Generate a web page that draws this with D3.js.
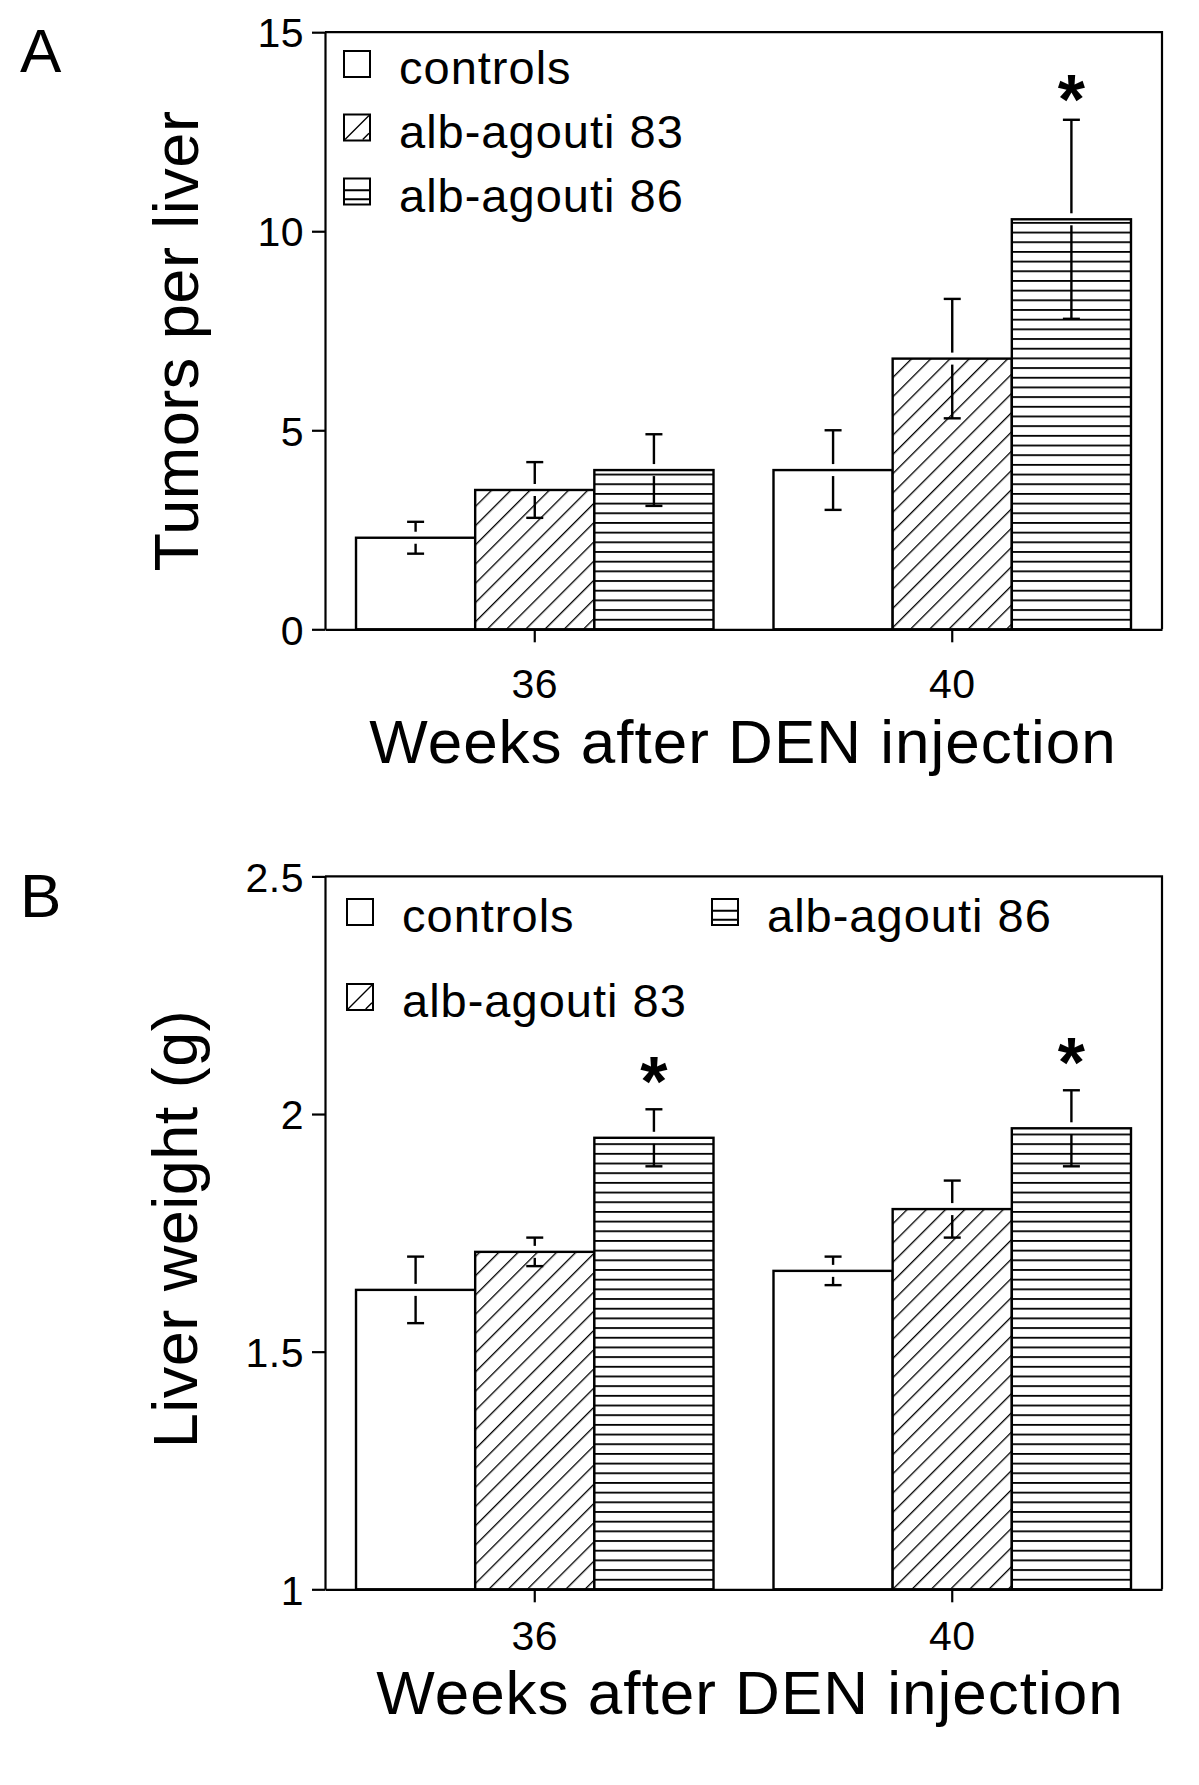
<!DOCTYPE html>
<html><head><meta charset="utf-8">
<script src="https://cdn.jsdelivr.net/npm/d3@7"></script>
<style>
body{margin:0;background:#fff;}
svg{display:block;}
text{font-family:"Liberation Sans",Arial,Helvetica,sans-serif;fill:#000;}
</style>
</head><body>
<svg id="chart" width="1199" height="1785"></svg>
<script>
// ---------- data ----------
const weeks = ["36", "40"];
const seriesNames = ["controls", "alb-agouti 83", "alb-agouti 86"];

const tumorsMean36 = [2.3, 3.5, 4.0];
const tumorsMean40 = [4.0, 6.8, 10.3];
const tumorsSem36 = [0.4, 0.7, 0.9];
const tumorsSem40 = [1.0, 1.5, 2.5];
const tumorsStars = [[1, 2]];            // [week index, series index]
const tumorTicks = [0, 5, 10, 15];
const tumorTickLabels = ["0", "5", "10", "15"];

const weightMean36 = [1.63, 1.71, 1.95];
const weightMean40 = [1.67, 1.80, 1.97];
const weightSem36 = [0.07, 0.03, 0.06];
const weightSem40 = [0.03, 0.06, 0.08];
const weightStars = [[0, 2], [1, 2]];
const weightTicks = [1, 1.5, 2, 2.5];
const weightTickLabels = ["1", "1.5", "2", "2.5"];

// ---------- drawing ----------
const svg = d3.select("#chart");
svg.append("rect").attr("width", 1199).attr("height", 1785).attr("fill", "#fff");
const defs = svg.append("defs");

// diagonal hatch
const diag = defs.append("pattern").attr("id", "diag")
  .attr("patternUnits", "userSpaceOnUse")
  .attr("width", 13.6).attr("height", 10)
  .attr("patternTransform", "rotate(45)");
diag.append("rect").attr("width", 13.6).attr("height", 10).attr("fill", "#fff");
diag.append("rect").attr("x", 0).attr("y", 0).attr("width", 1.3).attr("height", 10).attr("fill", "#000");

function horizPattern(id, y0) {
  const p = defs.append("pattern").attr("id", id)
    .attr("patternUnits", "userSpaceOnUse")
    .attr("width", 20).attr("height", 9.68)
    .attr("patternTransform", `translate(0,${y0 - 0.8})`);
  p.append("rect").attr("width", 20).attr("height", 9.68).attr("fill", "#fff");
  p.append("rect").attr("x", 0).attr("y", 0).attr("width", 20).attr("height", 1.8).attr("fill", "#000");
}

const xLeft = 325, xRight = 1162;

function drawPanel(cfg) {
  const g = svg.append("g");
  const x0 = d3.scaleBand().domain(weeks).range([xLeft, xRight])
    .paddingInner(0.1437).paddingOuter(0.0743);
  const x1 = d3.scaleBand().domain(d3.range(seriesNames.length)).range([0, x0.bandwidth()]);
  const y = d3.scaleLinear().domain(cfg.yDomain).range(cfg.yRange);
  const y0 = y(cfg.yDomain[0]);
  horizPattern(cfg.patId, y0);
  const fills = ["#fff", "url(#diag)", `url(#${cfg.patId})`];

  const rows = [];
  weeks.forEach((w, i) => {
    cfg.means[i].forEach((m, j) => rows.push({w, i, j, m, s: cfg.sems[i][j]}));
  });

  // bars
  g.selectAll("rect.bar").data(rows).join("rect").attr("class", "bar")
    .attr("x", d => x0(d.w) + x1(d.j))
    .attr("y", d => y(d.m))
    .attr("width", x1.bandwidth())
    .attr("height", d => y0 - y(d.m))
    .attr("fill", d => fills[d.j])
    .attr("stroke", "#000").attr("stroke-width", 2.4);

  // error bars (with small gap around bar top as in the original)
  const gap = 6, capW = 17;
  const cx = d => x0(d.w) + x1(d.j) + x1.bandwidth() / 2;
  const eb = g.selectAll("g.eb").data(rows).join("g").attr("class", "eb")
    .attr("stroke", "#000").attr("stroke-width", 2.4).attr("fill", "none");
  eb.append("line").attr("x1", cx).attr("x2", cx)
    .attr("y1", d => y(d.m + d.s)).attr("y2", d => y(d.m) - gap);
  eb.append("line").attr("x1", cx).attr("x2", cx)
    .attr("y1", d => y(d.m) + gap).attr("y2", d => y(d.m - d.s));
  eb.append("line")
    .attr("x1", d => cx(d) - capW / 2).attr("x2", d => cx(d) + capW / 2)
    .attr("y1", d => y(d.m + d.s)).attr("y2", d => y(d.m + d.s));
  eb.append("line")
    .attr("x1", d => cx(d) - capW / 2).attr("x2", d => cx(d) + capW / 2)
    .attr("y1", d => y(d.m - d.s)).attr("y2", d => y(d.m - d.s));

  // significance stars
  g.selectAll("text.star").data(cfg.stars).join("text").attr("class", "star")
    .attr("x", d => x0(weeks[d[0]]) + x1(d[1]) + x1.bandwidth() / 2)
    .attr("y", d => y(cfg.means[d[0]][d[1]] + cfg.sems[d[0]][d[1]]) + cfg.starDy)
    .attr("text-anchor", "middle").attr("font-size", 70).attr("font-weight", "bold")
    .text("*");

  // frame (top + right)
  const yTop = y(cfg.yDomain[1]);
  g.append("path").attr("d", `M${xLeft},${yTop}H${xRight}V${y0}`)
    .attr("fill", "none").attr("stroke", "#000").attr("stroke-width", 2.2);

  // y axis
  const ya = g.append("g").attr("transform", `translate(${xLeft},0)`)
    .call(d3.axisLeft(y).tickValues(cfg.ticks).tickSize(13).tickPadding(8).tickSizeOuter(0)
      .tickFormat((d, k) => cfg.tickLabels[k]));
  // x axis
  const xa = g.append("g").attr("transform", `translate(0,${y0})`)
    .call(d3.axisBottom(x0).tickSize(13).tickPadding(cfg.xPad).tickSizeOuter(0));
  [ya, xa].forEach(a => {
    a.attr("font-family", null).attr("font-size", null);
    a.selectAll("path.domain, line").attr("stroke", "#000").attr("stroke-width", 2.2);
    a.selectAll("text").attr("font-size", 41).attr("letter-spacing", 0.5).attr("fill", "#000");
  });
  ya.selectAll("text").attr("dy", "0.36em");

  // titles
  g.append("text").attr("transform", `translate(${cfg.yTitleX},${cfg.yTitleY}) rotate(-90)`)
    .attr("text-anchor", "middle").attr("font-size", 63).attr("letter-spacing", 0.5).text(cfg.yTitle);
  g.append("text").attr("x", cfg.xTitleX).attr("y", cfg.xTitleY)
    .attr("text-anchor", "middle").attr("font-size", 62).attr("letter-spacing", 1)
    .text("Weeks after DEN injection");
  g.append("text").attr("x", cfg.labelPos[0]).attr("y", cfg.labelPos[1])
    .attr("font-size", 62).text(cfg.label);

  // legend
  const bs = 26;
  const lg = g.selectAll("g.leg").data(cfg.legend).join("g").attr("class", "leg")
    .attr("transform", d => `translate(${d.x},${d.cy - bs / 2})`);
  lg.append("rect").attr("width", bs).attr("height", bs)
    .attr("fill", "#fff").attr("stroke", "#000").attr("stroke-width", 2);
  lg.filter(d => d.s === 1).append("path")
    .attr("d", `M1,${bs - 1}L${bs - 1},1M${bs * 0.72},${bs - 1}L${bs - 1},${bs * 0.72}`)
    .attr("stroke", "#000").attr("stroke-width", 1.4).attr("fill", "none");
  lg.filter(d => d.s === 2).append("path")
    .attr("d", `M0,${bs * 0.45}H${bs}M0,${bs * 0.8}H${bs}`)
    .attr("stroke", "#000").attr("stroke-width", 2).attr("fill", "none");
  lg.append("text").attr("x", 55).attr("y", bs / 2 + 20)
    .attr("font-size", 47).attr("letter-spacing", 1).text(d => seriesNames[d.s]);
}

drawPanel({
  label: "A", labelPos: [20, 72],
  yDomain: [0, 15], yRange: [629.3, 32.2],
  ticks: tumorTicks, tickLabels: tumorTickLabels,
  means: [tumorsMean36, tumorsMean40], sems: [tumorsSem36, tumorsSem40],
  stars: tumorsStars, starDy: 4,
  patId: "horizA", xPad: 27,
  yTitle: "Tumors per liver", yTitleX: 198, yTitleY: 341,
  xTitleX: 743, xTitleY: 763,
  legend: [{s: 0, x: 344, cy: 64}, {s: 1, x: 344, cy: 127.5}, {s: 2, x: 344, cy: 191.5}]
});

drawPanel({
  label: "B", labelPos: [20, 917],
  yDomain: [1, 2.5], yRange: [1589.3, 876.4],
  ticks: weightTicks, tickLabels: weightTickLabels,
  means: [weightMean36, weightMean40], sems: [weightSem36, weightSem40],
  stars: weightStars, starDy: -3,
  patId: "horizB", xPad: 19,
  yTitle: "Liver weight (g)", yTitleX: 197, yTitleY: 1229,
  xTitleX: 750, xTitleY: 1714,
  legend: [{s: 0, x: 347, cy: 912}, {s: 2, x: 712, cy: 912}, {s: 1, x: 347, cy: 997}]
});
</script>
</body></html>
